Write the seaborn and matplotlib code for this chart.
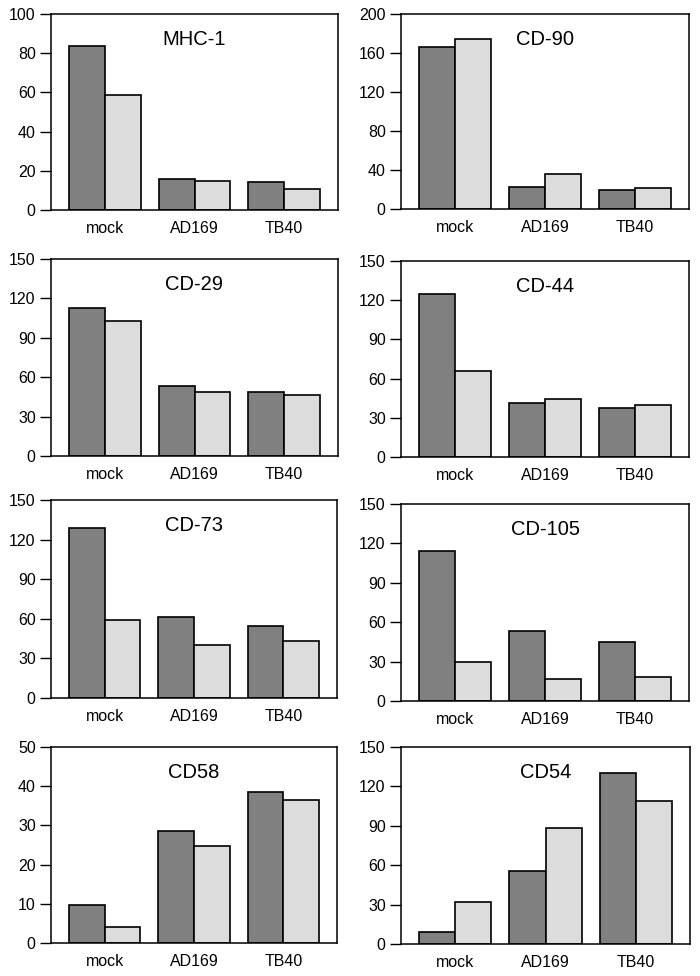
#!/usr/bin/env python3
"""
Surface marker expression after infection - 8 panel bar chart grid.
"""

import pandas as pd
import numpy as np
import matplotlib
matplotlib.use('Agg')
import matplotlib.pyplot as plt
import seaborn as sns

# ============================================================================
# DATA
# ============================================================================

groups = ['mock', 'AD169', 'TB40']
series = ['first', 'second']

markers = ['MHC-1', 'CD-90', 'CD-29', 'CD-44', 'CD-73', 'CD-105', 'CD58', 'CD54']

# values per marker: first bar (dark), second bar (light), in group order
mhc1_dark = [83.5, 15.6, 14.1]
mhc1_light = [58.7, 14.8, 10.7]
cd90_dark = [166.6, 22.9, 19.5]
cd90_light = [174.7, 35.8, 21.2]
cd29_dark = [113, 53.6, 48.8]
cd29_light = [103, 48.8, 46.5]
cd44_dark = [125, 41, 37.5]
cd44_light = [66, 44.6, 40]
cd73_dark = [129, 61.5, 54.5]
cd73_light = [59, 40, 43.5]
cd105_dark = [114, 53.4, 45.3]
cd105_light = [29.5, 16.5, 18.6]
cd58_dark = [9.8, 28.5, 38.4]
cd58_light = [4.2, 24.8, 36.5]
cd54_dark = [9.4, 55.7, 130]
cd54_light = [31.8, 88, 108.6]

y_max = [100, 200, 150, 150, 150, 150, 50, 150]
y_step = [20, 40, 30, 30, 30, 30, 10, 30]

dark_values = [mhc1_dark, cd90_dark, cd29_dark, cd44_dark,
               cd73_dark, cd105_dark, cd58_dark, cd54_dark]
light_values = [mhc1_light, cd90_light, cd29_light, cd44_light,
                cd73_light, cd105_light, cd58_light, cd54_light]

# ============================================================================
# PLOT
# ============================================================================

sns.set_style('ticks')
plt.rcParams['font.family'] = ['Liberation Sans', 'DejaVu Sans']
plt.rcParams['text.color'] = 'black'

W, H = 700, 976
fig = plt.figure(figsize=(W / 100, H / 100), dpi=100)

# panel boxes in pixels: left, top, right, bottom
boxes = [
    (51, 14, 338, 210), (401, 14, 689, 209),
    (51, 259, 338, 456), (401, 261, 689, 457),
    (51, 500, 337, 698), (401, 504, 689, 701),
    (51, 747, 337, 943), (401, 747, 690, 944),
]

palette = ['#808080', '#dcdcdc']

for i, name in enumerate(markers):
    l, t, r, b = boxes[i]
    ax = fig.add_axes([l / W, 1 - b / H, (r - l) / W, (b - t) / H])

    df = pd.DataFrame({
        'virus': groups * 2,
        'series': [series[0]] * 3 + [series[1]] * 3,
        'value': dark_values[i] + light_values[i],
    })
    sns.barplot(data=df, x='virus', y='value', hue='series', order=groups,
                palette=palette, edgecolor='black', linewidth=1.2,
                width=0.8, legend=False, ax=ax)

    ax.set_xlim(-0.6, 2.6)
    ax.set_ylim(0, y_max[i])
    ax.set_yticks(np.arange(0, y_max[i] + 1, y_step[i]))
    ax.set_xlabel('')
    ax.set_ylabel('')
    ax.tick_params(axis='y', length=8, width=1, pad=3, labelsize=11.5,
                   colors='black')
    ax.tick_params(axis='x', length=0, pad=8, labelsize=11.5, colors='black')
    for s in ax.spines.values():
        s.set_visible(True)
        s.set_linewidth(1.1)
        s.set_color('black')
    ax.text(0.5, 0.87, name, transform=ax.transAxes, ha='center',
            va='center', fontsize=14.5, color='black')

plt.savefig('out.png', dpi=100)
plt.close()
